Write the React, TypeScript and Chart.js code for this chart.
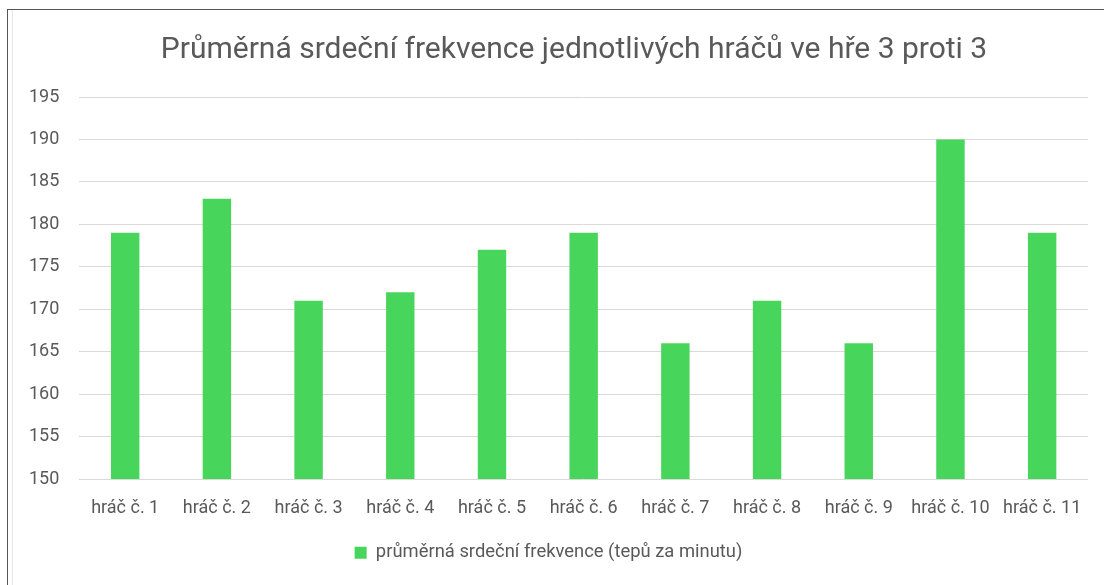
import React, { useEffect, useRef } from "react";
import { Chart, registerables } from "chart.js";

Chart.register(...registerables);

const categories = ["hráč č. 1", "hráč č. 2", "hráč č. 3", "hráč č. 4", "hráč č. 5", "hráč č. 6", "hráč č. 7", "hráč č. 8", "hráč č. 9", "hráč č. 10", "hráč č. 11"];
const heartRate = [179, 183, 171, 172, 177, 179, 166, 171, 166, 190, 179];
const seriesLabel = "průměrná srdeční frekvence (tepů za minutu)";
const titleText = "Průměrná srdeční frekvence jednotlivých hráčů ve hře 3 proti 3";
const yMin = 150;
const yMax = 195;
const yStep = 5;

const FONT = "Roboto, 'Noto Sans', sans-serif";

const titlePlugin = {
  id: "centeredTitle",
  afterDraw(chart: any) {
    const ctx = chart.ctx;
    ctx.save();
    ctx.font = `30px ${FONT}`;
    ctx.fillStyle = "#595959";
    ctx.textAlign = "center";
    ctx.textBaseline = "alphabetic";
    ctx.fillText(titleText, 574, 58);
    ctx.restore();
  },
};

export default function App() {
  const ref = useRef<HTMLCanvasElement>(null);
  useEffect(() => {
    if (!ref.current) return;
    const chart = new Chart(ref.current, {
      type: "bar",
      data: {
        labels: categories,
        datasets: [
          {
            label: seriesLabel,
            data: heartRate,
            backgroundColor: "#47D65B",
            borderWidth: 0,
            barPercentage: 0.31,
            categoryPercentage: 1,
          },
        ],
      },
      plugins: [titlePlugin],
      options: {
        animation: false,
        responsive: false,
        maintainAspectRatio: false,
        layout: { padding: { left: 9, right: 16, top: 97, bottom: 13 } },
        plugins: {
          title: { display: false },
          legend: {
            position: "bottom",
            labels: {
              color: "#595959",
              font: { family: FONT, size: 18.4 },
              boxWidth: 12,
              boxHeight: 12,
              padding: 5,
            },
          },
          tooltip: { enabled: false },
        },
        scales: {
          x: {
            grid: { display: false, drawTicks: false },
            border: { display: false },
            ticks: { color: "#595959", font: { family: FONT, size: 18 }, padding: 19, maxRotation: 0 },
            afterFit(scale: any) {
              scale.paddingLeft = 0;
              scale.paddingRight = 0;
            },
          },
          y: {
            min: yMin,
            max: yMax,
            grid: { color: "#D9D9D9", lineWidth: 1, drawTicks: false },
            border: { display: false },
            ticks: { stepSize: yStep, color: "#595959", font: { family: FONT, size: 18 }, padding: 20 },
          },
        },
      },
    });
    return () => chart.destroy();
  }, []);
  return (
    <div style={{ position: "fixed", left: 0, top: 0, width: 1104, height: 585, background: "#fff" }}>
      <div style={{ position: "absolute", left: 7, top: 9, right: 0, bottom: 0, borderTop: "1px solid #555", borderLeft: "1px solid #555" }} />
      <div style={{ position: "absolute", left: 12, top: 10, bottom: 0, borderLeft: "1px solid #E6E6E6" }} />
      <canvas ref={ref} width={1104} height={585} style={{ position: "absolute", left: 0, top: 0 }} />
    </div>
  );
}
